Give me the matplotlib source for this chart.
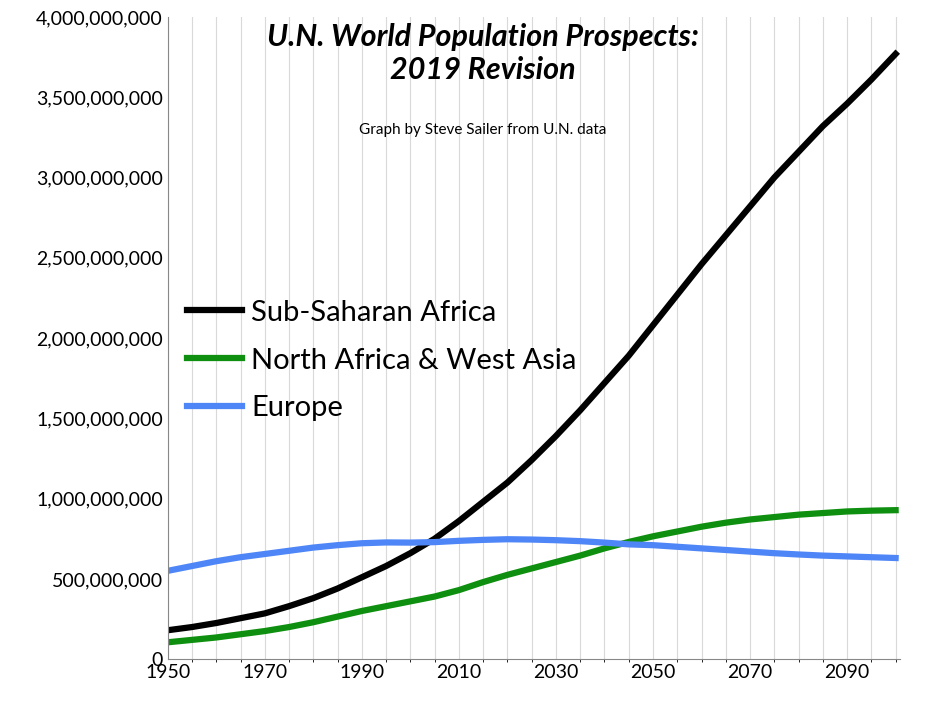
import matplotlib
matplotlib.use("Agg")
import matplotlib.pyplot as plt
from matplotlib.ticker import FuncFormatter, MultipleLocator, FixedLocator

years = list(range(1950, 2101, 5))
ssa = [180, 200, 225, 255, 285, 330, 380, 440, 510, 580, 660, 750, 860, 980, 1100, 1240,
       1390, 1550, 1720, 1890, 2080, 2270, 2460, 2640, 2820, 3000, 3160, 3320, 3460, 3610, 3770]
nawa = [105, 120, 135, 155, 175, 200, 230, 265, 300, 330, 360, 390, 430, 480, 525, 565,
        605, 645, 690, 730, 765, 795, 825, 850, 870, 885, 900, 910, 920, 925, 928]
europe = [550, 580, 610, 635, 655, 675, 695, 710, 722, 727, 726, 729, 737, 743, 747, 745,
          741, 735, 726, 715, 710, 700, 690, 680, 670, 660, 652, 645, 640, 635, 630]
xticks = [1950, 1970, 1990, 2010, 2030, 2050, 2070, 2090]

plt.rcParams['font.family'] = ['Lato', 'DejaVu Sans']
fig = plt.figure(figsize=(9.37, 7.08), dpi=100)
ax = fig.add_axes([0.179, 0.069, 0.782, 0.907])

m = 1e6
ax.plot(years, [v * m for v in ssa], color="black", lw=4.5, label="Sub-Saharan Africa")
ax.plot(years, [v * m for v in nawa], color="#0f8f0f", lw=4.5, label="North Africa & West Asia")
ax.plot(years, [v * m for v in europe], color="#4f86f7", lw=4.5, label="Europe")

ax.set_xlim(1950, 2101)
ax.set_ylim(0, 4e9)
ax.xaxis.set_major_locator(FixedLocator(xticks))
ax.xaxis.set_minor_locator(MultipleLocator(5))
ax.yaxis.set_major_locator(MultipleLocator(5e8))
ax.yaxis.set_major_formatter(FuncFormatter(lambda v, p: f"{int(v):,}"))
ax.grid(True, which="both", axis="x", color="#d9d9d9", lw=0.8)
ax.tick_params(labelsize=14, length=0)
for s in ["top", "right"]:
    ax.spines[s].set_visible(False)
ax.spines["left"].set_color("#888888")
ax.spines["bottom"].set_color("#888888")

ax.text(0.43, 0.99, "U.N. World Population Prospects:\n2019 Revision", transform=ax.transAxes,
        ha="center", va="top", fontsize=22, fontweight="bold", fontstyle="italic", linespacing=1.2)
ax.text(0.43, 0.835, "Graph by Steve Sailer from U.N. data", transform=ax.transAxes,
        ha="center", va="top", fontsize=11)

ax.legend(loc="center left", bbox_to_anchor=(0.01, 0.465), frameon=False, fontsize=21,
          handlelength=1.9, handletextpad=0.3, labelspacing=0.75, borderaxespad=0)

fig.savefig("out.png", dpi=100)
